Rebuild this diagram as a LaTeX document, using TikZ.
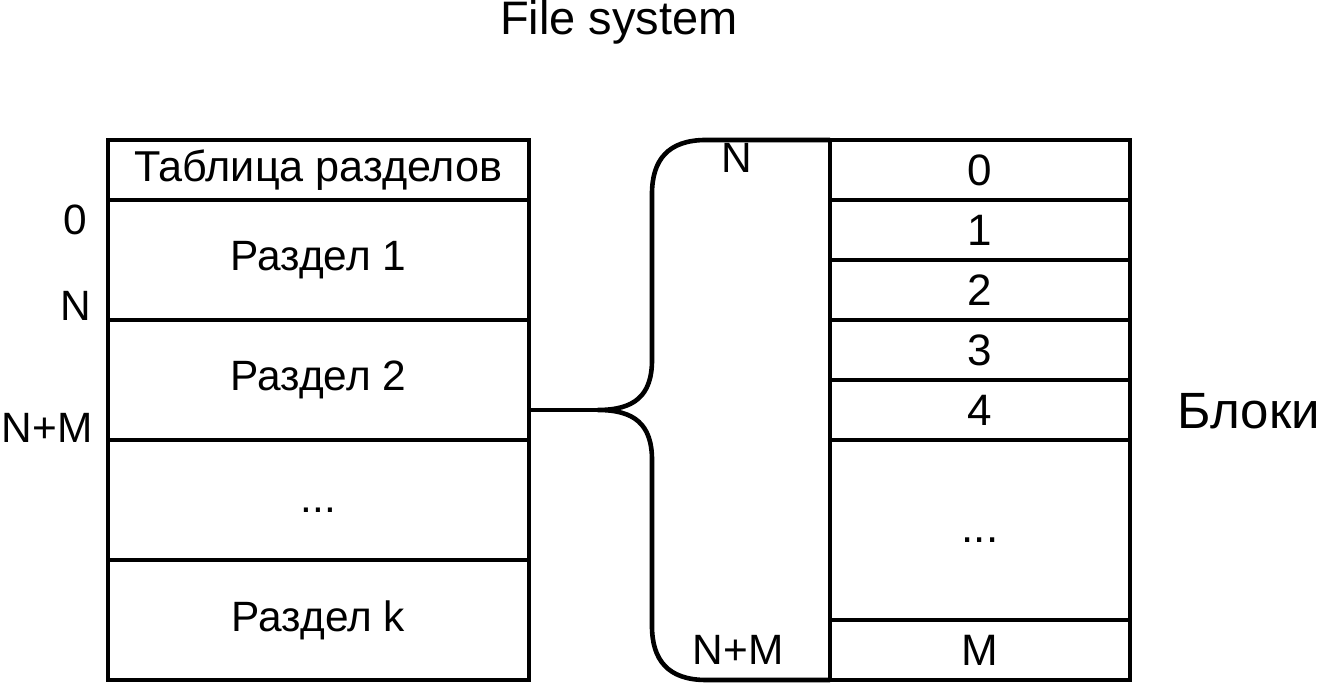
\documentclass[tikz,border=0pt]{standalone}
\usepackage{fontspec}
\setmainfont{Liberation Sans}
\usetikzlibrary{positioning,calc}
\tikzset{cell/.style = {draw, line width=2.3pt, inner sep=0pt, outer sep=0pt, font=\fontsize{21.2}{25}\selectfont}}
\tikzset{part/.style = {cell, minimum width=210.5pt, minimum height=60pt}}
\tikzset{block/.style = {cell, minimum width=150pt, minimum height=30pt, font=\fontsize{22}{26}\selectfont}}
\tikzset{dotcell/.style = {text height=17pt, text depth=4pt}}
\tikzset{addr/.style = {inner sep=0pt, font=\fontsize{21.2}{25}\selectfont}}
\tikzset{big/.style = {inner sep=0pt, font=\fontsize{23.5}{28}\selectfont}}
\tikzset{brace/.style = {line width=2.3pt, line join=round}}

\begin{document}
\begin{tikzpicture}[x=0.5pt, y=-0.5pt]
  \useasboundingbox (0,0) rectangle (1319,688);

  \node[big] (title) at (619,22) {File system};

  % partitions
  \node[part, minimum height=30pt, font=\fontsize{21.6}{25}\selectfont, anchor=north west] (tbl) at (108,140) {Таблица разделов};
  \node[part, below=0pt of tbl] (p1) {Раздел 1};
  \node[part, below=0pt of p1] (p2) {Раздел 2};
  \node[part, dotcell, below=0pt of p2] (pdots) {...};
  \node[part, below=0pt of pdots] (pk) {Раздел k};

  \node[addr, anchor=east] (a0) at (87,220) {0};
  \node[addr, anchor=east] (aN) at (92,306) {N};
  \node[addr, anchor=east] (aNM) at (93,428) {N+M};

  % blocks
  \node[block, anchor=north west] (b0) at (830,140) {0};
  \foreach \i [remember=\i as \j (initially 0)] in {1,...,4}
    \node[block, below=0pt of b\j] (b\i) {\i};
  \node[block, dotcell, minimum height=90pt, below=0pt of b4] (bdots) {...};
  \node[block, below=0pt of bdots] (bM) {M};

  \node[big, font=\fontsize{25.5}{30}\selectfont] (blocks) at (1249,411) {Блоки};
  \node[addr] (bN) at (737,158) {N};
  \node[addr] (bNM) at (738,650) {N+M};

  % brace from partition to blocks
  \coordinate (mid) at ($(b0.north west)!0.5!(bM.south west)$);
  \coordinate (tip) at (598,410);
  \draw[brace] (p2.east |- mid) -- (tip);
  \draw[brace] (b0.north west) -- (706,140) .. controls (668,140) and (652,160) .. (652,194)
    -- (652,360) .. controls (652,396) and (634,410) .. (tip)
    .. controls (634,410) and (652,424) .. (652,460)
    -- (652,626) .. controls (652,660) and (668,680) .. (706,680) -- (bM.south west);
\end{tikzpicture}
\end{document}
